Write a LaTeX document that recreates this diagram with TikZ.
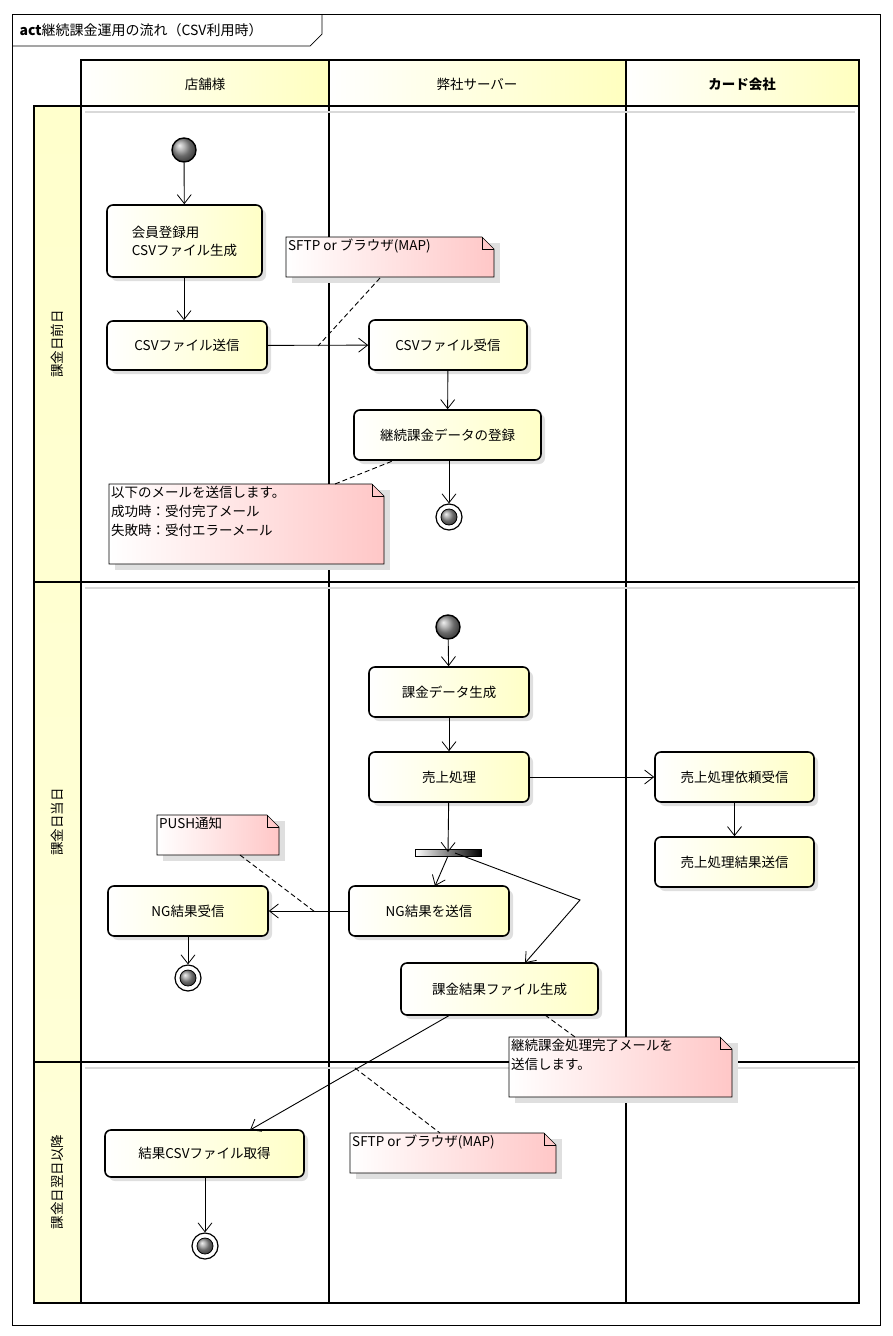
\documentclass[tikz,border=0pt]{standalone}
\usepackage{fontspec}
\setmainfont{Noto Sans CJK JP}
\usetikzlibrary{arrows.meta,shadows,calc}
\tikzset{
 x=1pt,y=-1pt,
 act/.style={draw,line width=1.6pt,rounded corners=6pt,left color=white,right color=yellow!22,
   drop shadow={opacity=0.25,shadow xshift=4pt,shadow yshift=-4pt},font=\fontsize{13.5}{18}\selectfont,align=left},
 st/.style={circle,draw,line width=1.4pt,minimum size=24pt,inner sep=0pt,ball color=gray!80,shading=ball},
 fl/.style={line width=0.9pt,-{Straight Barb[length=9pt,width=14pt,line width=0.8pt]}},
 dsh/.style={dash pattern=on 5pt off 3pt,line width=0.9pt},
 lane/.style={line width=1.6pt},
 lbl/.style={font=\fontsize{13.5}{16}\selectfont},
 ntxt/.style={font=\fontsize{13.5}{19}\selectfont,align=left,anchor=north west,inner sep=2pt},
}
\newcommand\mynote[5]{% name x1 y1 x2 y2
 \fill[gray!25] (#2+6,#3+6) rectangle (#4+6,#5+6);
 \shade[left color=white,right color=red!22,draw=black,line width=0.6pt] (#2,#3)--(#4-12,#3)--(#4,#3+12)--(#4,#5)--(#2,#5)--cycle;
 \draw[line width=0.6pt] (#4-12,#3)--(#4-12,#3+12)--(#4,#3+12);
 \coordinate (#1) at (#2,#3);}
\newcommand\myfinal[2]{\node[circle,draw,line width=1.2pt,fill=white,minimum size=26pt,inner sep=0pt] (#1) at #2 {};
 \node[circle,draw,line width=0.8pt,ball color=gray!80,minimum size=16pt,inner sep=0pt] at #2 {};}
\begin{document}
\begin{tikzpicture}
\useasboundingbox (0,0) rectangle (892,1336);
\fill[white] (0,0) rectangle (892,1336);
% frame
\draw[line width=0.7pt] (12,14) rectangle (880,1325);
\draw[line width=0.7pt] (12,46)--(310,46)--(322,34)--(322,14);
\node[anchor=west,font=\fontsize{14}{16}\selectfont] (title) at (16,30) {\textbf{act}継続課金運用の流れ（CSV利用時）};
% headers
\shade[left color=white,right color=yellow!25] (81,60) rectangle (329,106);
\shade[left color=white,right color=yellow!25] (329,60) rectangle (626,106);
\shade[left color=white,right color=yellow!25] (626,60) rectangle (859,106);
\shade[top color=yellow!20,bottom color=yellow!15] (34,106) rectangle (81,1303);
\node[lbl] (h1) at (205,84) {店舗様};
\node[lbl] (h2) at (477,84) {弊社サーバー};
\node[lbl] (h3) at (742,84) {\textbf{カード会社}};
\node[rotate=90,lbl] (v1) at (57,344) {課金日前日};
\node[rotate=90,lbl] (v2) at (57,822) {課金日当日};
\node[rotate=90,lbl] (v3) at (57,1182) {課金日翌日以降};
\draw[lane] (81,60) rectangle (859,1303);
\draw[lane] (34,106) rectangle (859,1303);
\draw[lane] (329,60)--(329,1303) (626,60)--(626,1303);
\draw[lane] (34,582)--(859,582) (34,1062)--(859,1062) (81,106)--(859,106);
\draw[gray!30,line width=1.5pt] (85,112)--(855,112) (85,588)--(855,588) (85,1068)--(855,1068);
% row 1
\node[st] (s1) at (184,150) {};
\node[act,minimum width=155pt,minimum height=72pt] (a1) at (184.5,241) {会員登録用\\CSVファイル生成};
\node[act,minimum width=160pt,minimum height=49pt] (a2) at (187,345.5) {CSVファイル送信};
\node[act,minimum width=158pt,minimum height=50pt] (a3) at (448,345) {CSVファイル受信};
\node[act,minimum width=187pt,minimum height=50pt] (a4) at (447.5,435) {継続課金データの登録};
\myfinal{e1}{(449,517)}
\draw[fl] (s1)--(a1);
\draw[fl] (a1.south -| 184,0)--(a2.north -| 184,0);
\draw[fl] (a2)--(a3);
\draw[fl] (a3)--(a4);
\draw[fl] (a4.south -| 449,0)--(e1);
\mynote{n1}{286}{237}{494}{277}
\node[ntxt] (n1t) at (n1) {SFTP or ブラウザ(MAP)};
\coordinate (n1c) at (318,346);
\draw[dsh] (380,278)--(n1c);
\mynote{n2}{109}{484}{384}{564}
\node[ntxt] (n2t) at (n2) {以下のメールを送信します。\\成功時：受付完了メール\\失敗時：受付エラーメール};
\draw[dsh] (335,484)--(395,460);
% row 2
\node[st] (s2) at (448,627) {};
\node[act,minimum width=160pt,minimum height=50pt] (b1) at (449,692) {課金データ生成};
\node[act,minimum width=160pt,minimum height=50pt] (b2) at (449,777) {売上処理};
\node[act,minimum width=159pt,minimum height=50pt] (c1) at (734.5,777) {売上処理依頼受信};
\node[act,minimum width=159pt,minimum height=50pt] (c2) at (734.5,862) {売上処理結果送信};
\shade[left color=white,right color=black,draw=black,line width=0.6pt] (415,849) rectangle (481,856);
\coordinate (fk) at (448,852);
\node[act,minimum width=160pt,minimum height=50pt] (b3) at (429,911) {NG結果を送信};
\node[act,minimum width=197pt,minimum height=52pt] (b4) at (499.5,989) {課金結果ファイル生成};
\node[act,minimum width=160pt,minimum height=50pt] (a5) at (188,911) {NG結果受信};
\myfinal{e2}{(188,978)}
\draw[fl] (s2)--(b1);
\draw[fl] (b1)--(b2);
\draw[fl] (b2)--(fk);
\draw[fl] (b2)--(c1);
\draw[fl] (c1)--(c2);
\draw[fl] (448,856)--(435,886);
\coordinate (bend) at (580,900);
\draw[fl] (455,853)--(bend)--(525,963);
\draw[fl] (b3)--(a5);
\draw[fl] (a5)--(e2);
\mynote{n3}{157}{815}{279}{855}
\node[ntxt] (n3t) at (n3) {PUSH通知};
\draw[dsh] (240,855)--(315,912);
\mynote{n4}{509}{1037}{732}{1097}
\node[ntxt] (n4t) at (n4) {継続課金処理完了メールを\\送信します。};
\draw[dsh] (545,1015)--(575,1037);
% row 3
\node[act,minimum width=199pt,minimum height=47pt] (a6) at (204.5,1153.5) {結果CSVファイル取得};
\myfinal{e3}{(205,1246)}
\draw[fl] (450,1015)--(250,1130);
\draw[fl] (a6.south -| 205,0)--(e3);
\mynote{n5}{350}{1133}{556}{1173}
\node[ntxt] (n5t) at (n5) {SFTP or ブラウザ(MAP)};
\draw[dsh] (355,1068)--(440,1133);
\end{tikzpicture}
\end{document}
